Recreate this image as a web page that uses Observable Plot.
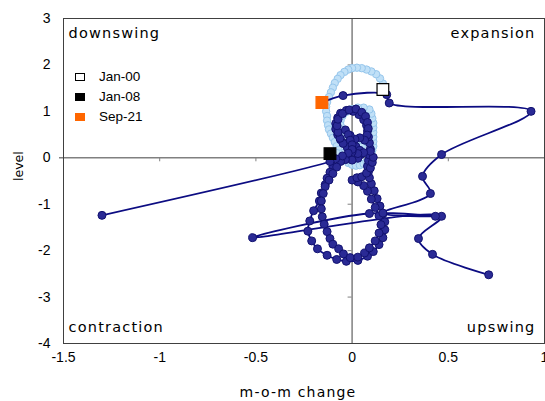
<!DOCTYPE html>
<html>
<head>
<meta charset="utf-8">
<script src="https://cdn.jsdelivr.net/npm/d3@7"></script>
<script src="https://cdn.jsdelivr.net/npm/@observablehq/plot@0.6"></script>
<style>
  html, body { margin: 0; padding: 0; background: #fff; }
  #wrap { position: relative; width: 545px; height: 401px; }
  #legend { position: absolute; left: 75px; top: 67px; font-family: "Liberation Sans", Arial, sans-serif; font-size: 13.5px; color: #000; }
  #legend .row { height: 20px; line-height: 20px; display: flex; align-items: center; }
  #legend .sw { width: 8px; height: 6px; margin-right: 14px; box-sizing: content-box; }
</style>
</head>
<body>
<div id="wrap"></div>
<script>
// ---- data ----
const xTicks = [-1.5, -1, -0.5, 0, 0.5, 1];
const yTicks = [-4, -3, -2, -1, 0, 1, 2, 3];
const quadrantLabels = ["downswing", "expansion", "contraction", "upswing"];
const xLabel = "m-o-m change";
const yLabel = "level";

// light series: Jan-00 .. Dec-07
const lightX = [0.16, 0.16, 0.145, 0.125, 0.10, 0.075, 0.05, 0.025, 0.0, -0.02, -0.04, -0.06, -0.075, -0.09, -0.10, -0.11, -0.12, -0.13, -0.135, -0.135, -0.13, -0.13, -0.125, -0.12, -0.11, -0.10, -0.09, -0.08, -0.07, -0.06, -0.05, -0.035, -0.02, 0.0, 0.02, 0.04, 0.06, 0.075, 0.09, 0.10, 0.105, 0.11, 0.11, 0.11, 0.11, 0.11, 0.11, 0.105, 0.10, 0.09, 0.06, 0.03, 0.0, -0.03, -0.05, -0.06, -0.06, -0.05, -0.03, 0.0, 0.03, 0.05, 0.05, 0.03, 0.0, -0.04, -0.08];
const lightY = [1.47, 1.60, 1.71, 1.80, 1.86, 1.90, 1.93, 1.94, 1.93, 1.90, 1.85, 1.78, 1.70, 1.61, 1.51, 1.41, 1.31, 1.20, 1.10, 1.00, 0.90, 0.80, 0.70, 0.61, 0.52, 0.43, 0.34, 0.25, 0.17, 0.09, 0.02, -0.05, -0.11, -0.15, -0.17, -0.16, -0.13, -0.08, -0.01, 0.07, 0.16, 0.25, 0.35, 0.45, 0.55, 0.65, 0.75, 0.85, 0.95, 1.04, 1.08, 1.08, 1.05, 0.99, 0.90, 0.80, 0.70, 0.60, 0.50, 0.42, 0.38, 0.32, 0.24, 0.17, 0.13, 0.11, 0.10];

// dark series: Jan-08 .. Sep-21 (null = month outside the axes)
const darkX = [
  -0.115, -0.11, -0.10, -0.115, -0.13, -0.14, -0.16, -0.17, -0.20, -0.22, -0.23, -0.21, -0.18, -0.13, -0.08, -0.03,
  0.03, 0.08, 0.11, 0.14, 0.16, 0.17, 0.17, 0.16, 0.145, 0.13, 0.115, 0.10, 0.09, 0.085, 0.08, 0.085, 0.09, 0.095, 0.09, 0.085, 0.08, 0.075, 0.06, 0.035, 0.005,
  -0.03, -0.06, -0.075, -0.085, -0.085, -0.075, -0.06, -0.035, -0.005, 0.02, 0.04, 0.045, 0.03, 0.0, -0.035, -0.06,
  -0.08, -0.10, -0.12, -0.14, -0.15, -0.16, -0.16, -0.155, -0.145, -0.13, -0.115, -0.10, -0.07, -0.045, -0.01,
  0.03, 0.065, 0.09, 0.12, 0.14, 0.15, 0.14, 0.12, 0.10, 0.08, 0.06, 0.03,
  0.0, 0.025, 0.05, 0.075, 0.095, 0.105, 0.11, 0.095, 0.06, 0.03, 0.0, -0.025, -0.047, -0.063, -0.073, -0.078, -0.073, -0.05, -0.015,
  0.02, 0.05, 0.07, 0.08, 0.084, 0.078, 0.065, 0.04, 0.015, -0.01, -0.035, -0.02, -0.01, 0.0, 0.0, -0.02, -0.05, -0.085, -0.115,
  -1.30, null,
  0.71, 0.418, 0.345, 0.465, -0.517, 0.09, 0.433, 0.16, 0.407, 0.366, 0.465, 0.93, 0.193, 0.18, -0.047, -0.157
];
const darkY = [
  0.09, -0.06, -0.19, -0.31, -0.44, -0.58, -0.76, -0.93, -1.14, -1.36, -1.58, -1.79, -1.96, -2.10, -2.19, -2.23,
  -2.21, -2.12, -2.02, -1.87, -1.72, -1.55, -1.38, -1.21, -1.04, -0.88, -0.71, -0.56, -0.43, -0.30, -0.18, -0.06, 0.06, 0.19, 0.32, 0.45, 0.58, 0.70, 0.82, 0.93, 1.00,
  1.02, 0.96, 0.86, 0.74, 0.62, 0.50, 0.39, 0.31, 0.27, 0.24, 0.16, 0.07, -0.01, -0.05, -0.04, -0.08,
  -0.20, -0.34, -0.48, -0.62, -0.77, -0.93, -1.10, -1.27, -1.43, -1.59, -1.74, -1.86, -1.96, -2.07, -2.15,
  -2.14, -2.05, -1.94, -1.79, -1.62, -1.44, -1.25, -1.07, -0.89, -0.72, -0.60, -0.52,
  -0.48, -0.43, -0.41, -0.33, -0.22, -0.10, 0.01, 0.14, 0.11, 0.09, 0.13, 0.22, 0.31, 0.42, 0.55, 0.69, 0.83, 0.95, 1.03,
  1.05, 0.98, 0.89, 0.76, 0.63, 0.49, 0.38, 0.43, 0.40, 0.48, 0.60, 0.50, 0.38, 0.28, 0.18, 0.10, 0.04, -0.02, -0.08,
  -1.24, null,
  -2.52, -2.08, -1.74, -1.26, -1.72, -1.20, -1.26, -1.19, -0.77, -0.40, 0.07, 1.00, 1.18, 1.36, 1.34, 1.19
];

// highlighted months
const markLabels = ["Jan-00", "Jan-08", "Sep-21"];
const markX = [0.16, -0.115, -0.157];
const markY = [1.47, 0.09, 1.19];

// ---- build ----
const light = lightX.map((x, i) => ({x, y: lightY[i]}));
const dark = darkX.map((x, i) => ({x, y: darkY[i]}));
const marks = markLabels.map((label, i) => ({label, x: markX[i], y: markY[i]}));
const markFill = {"Jan-00": "#ffffff", "Jan-08": "#000000", "Sep-21": "#ff6600"};
const fmt = d => String(d);
const quadFont = "DejaVu Sans, Verdana, sans-serif";

const chart = Plot.plot({
  width: 545,
  height: 401,
  marginLeft: 63,
  marginRight: 1,
  marginTop: 18,
  marginBottom: 58,
  style: {fontFamily: "Liberation Sans, Arial, sans-serif", fontSize: "14px", color: "#000", background: "#fff", overflow: "visible"},
  x: {domain: [-1.5, 1]},
  y: {domain: [-4, 3]},
  marks: [
    Plot.ruleX([0], {stroke: "#808080", strokeWidth: 1.5}),
    Plot.ruleY([0], {stroke: "#808080", strokeWidth: 1.5, insetLeft: -4}),
    Plot.ruleX(xTicks, {x: d => d, y1: 0, y2: 0, insetBottom: -4, stroke: "#808080", strokeWidth: 1}),
    Plot.ruleY(yTicks, {y: d => d, x1: 0, x2: 0, insetLeft: -4, stroke: "#808080", strokeWidth: 1}),
    Plot.frame({stroke: "#404040", strokeWidth: 1}),
    Plot.axisX(xTicks, {tickSize: 0, tickPadding: 9, tickFormat: fmt, label: null, fontSize: 14}),
    Plot.axisY(yTicks, {tickSize: 0, tickPadding: 13, tickFormat: fmt, label: null, fontSize: 14}),
    Plot.dot(light, {x: "x", y: "y", r: 3.7, fill: "#c0e0f7", stroke: "#96c6ec", strokeWidth: 1}),
    Plot.line(dark, {x: "x", y: "y", curve: "catmull-rom", stroke: "#0c0c82", strokeWidth: 1.8}),
    Plot.dot(dark, {x: "x", y: "y", r: 4, fill: "#2a2a95", stroke: "#121270", strokeWidth: 1}),
    Plot.dot(marks, {x: "x", y: "y", symbol: "square", r: 6.6, fill: d => markFill[d.label], stroke: d => d.label === "Jan-00" ? "#000" : markFill[d.label], strokeWidth: 1.2}),
    Plot.text([quadrantLabels[0]], {frameAnchor: "top-left", dx: 5, dy: 15, textAnchor: "start", lineAnchor: "middle", fontFamily: quadFont, fontSize: 14.5}),
    Plot.text([quadrantLabels[1]], {frameAnchor: "top-right", dx: -9, dy: 15, textAnchor: "end", lineAnchor: "middle", fontFamily: quadFont, fontSize: 14.5}),
    Plot.text([quadrantLabels[2]], {frameAnchor: "bottom-left", dx: 5, dy: -16, textAnchor: "start", lineAnchor: "middle", fontFamily: quadFont, fontSize: 14.5}),
    Plot.text([quadrantLabels[3]], {frameAnchor: "bottom-right", dx: -9, dy: -16, textAnchor: "end", lineAnchor: "middle", fontFamily: quadFont, fontSize: 14.5}),
    Plot.text([xLabel], {frameAnchor: "bottom", dy: 49, dx: -6, lineAnchor: "middle", fontFamily: quadFont, fontSize: 14}),
    Plot.text([yLabel], {frameAnchor: "left", dx: -45, rotate: -90, lineAnchor: "middle", fontFamily: quadFont, fontSize: 12.5})
  ]
});

d3.select(chart).selectAll("text")
  .filter(function() { return [...quadrantLabels, xLabel].includes(this.textContent); })
  .attr("letter-spacing", "1.2px");

const wrap = document.getElementById("wrap");
wrap.appendChild(chart);

// legend inside the plot area
const legend = document.createElement("div");
legend.id = "legend";
markLabels.forEach(label => {
  const row = document.createElement("div");
  row.className = "row";
  const sw = document.createElement("span");
  sw.className = "sw";
  sw.style.background = markFill[label];
  sw.style.border = label === "Jan-00" ? "1.2px solid #000" : "1.2px solid " + markFill[label];
  const t = document.createElement("span");
  t.textContent = label;
  row.appendChild(sw);
  row.appendChild(t);
  legend.appendChild(row);
});
wrap.appendChild(legend);
</script>
</body>
</html>
